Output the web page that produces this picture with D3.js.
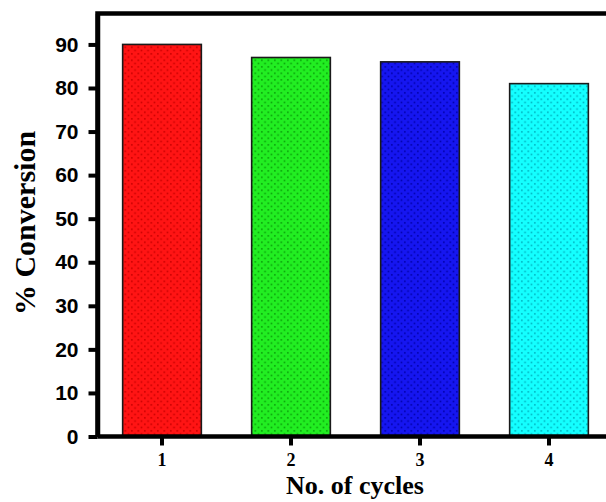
<!DOCTYPE html>
<html>
<head>
<meta charset="utf-8">
<script src="https://cdn.jsdelivr.net/npm/d3@7"></script>
<style>
  html,body{margin:0;padding:0;background:#fff;}
  svg{display:block;}
</style>
</head>
<body>
<div id="chart"></div>
<script>
/* ---------- DATA ---------- */
const cycles      = ["1","2","3","4"];
const conversion  = [90, 87, 86, 81];
const yTicks      = [0,10,20,30,40,50,60,70,80,90];
const barColors   = ["#ff1414","#22ee22","#1616f0","#14ffff"];
const dotColors   = ["#c80000","#0aa00a","#0000a8","#00b4c0"];

/* ---------- LAYOUT ---------- */
const W=606, H=502;
const X0=97.5, X1=613.5, Y0=436.5, Y1=13.5;

const svg=d3.select("#chart").append("svg").attr("width",W).attr("height",H);

/* dot patterns */
const defs=svg.append("defs");
cycles.forEach((c,i)=>{
  const p=defs.append("pattern").attr("id","dots"+i)
    .attr("patternUnits","userSpaceOnUse").attr("width",6.5).attr("height",6.5);
  p.append("rect").attr("width",6.5).attr("height",6.5).attr("fill",barColors[i]);
  p.append("rect").attr("x",1).attr("y",1).attr("width",1.6).attr("height",1.6).attr("fill",dotColors[i]);
  p.append("rect").attr("x",4.25).attr("y",4.25).attr("width",1.6).attr("height",1.6).attr("fill",dotColors[i]);
});

const x=d3.scaleBand().domain(cycles).range([X0,X1]).paddingInner(0.39).paddingOuter(0.195);
const y=d3.scaleLinear().domain([0,97.1]).range([Y0,Y1]);

/* bars */
svg.append("g").selectAll("rect").data(cycles).enter().append("rect")
  .attr("x",d=>x(d)).attr("width",x.bandwidth())
  .attr("y",(d,i)=>y(conversion[i])).attr("height",(d,i)=>Y0-y(conversion[i]))
  .attr("fill",(d,i)=>`url(#dots${i})`)
  .attr("stroke","#1a1a1a").attr("stroke-width",1.6);

/* frame: top + right */
svg.append("path").attr("d",`M${X0},${Y0}V${Y1}H${X1}V${Y0}`)
  .attr("fill","none").attr("stroke","#000").attr("stroke-width",4.5);

/* y axis */
const gy=svg.append("g").attr("transform",`translate(${X0},0)`)
  .call(d3.axisLeft(y).tickValues(yTicks).tickSize(9).tickSizeOuter(0).tickPadding(10));
gy.select(".domain").attr("stroke","#000").attr("stroke-width",4.5);
gy.selectAll(".tick line").attr("stroke","#000").attr("stroke-width",4);
gy.selectAll(".tick text").attr("fill","#000")
  .style("font-family","'Liberation Sans',Arial,sans-serif")
  .style("font-weight","bold").style("font-size","21px");

/* x axis */
const gx=svg.append("g").attr("transform",`translate(0,${Y0})`)
  .call(d3.axisBottom(x).tickSize(9).tickSizeOuter(0).tickPadding(8));
gx.select(".domain").attr("d",`M${X0},0H${X1}`).attr("stroke","#000").attr("stroke-width",4.5);
gx.selectAll(".tick line").attr("stroke","#000").attr("stroke-width",4);
gx.selectAll(".tick text").attr("fill","#000")
  .style("font-family","'Liberation Serif','Times New Roman',serif")
  .style("font-weight","bold").style("font-size","18px");

/* axis titles */
svg.append("text").attr("x",355).attr("y",494).attr("text-anchor","middle")
  .style("font-family","'Liberation Serif','Times New Roman',serif")
  .style("font-weight","bold").style("font-size","26px").text("No. of cycles");

svg.append("text").attr("transform","translate(35,223) rotate(-90)").attr("text-anchor","middle")
  .style("font-family","'Liberation Serif','Times New Roman',serif")
  .style("font-weight","bold").style("font-size","30px").text("% Conversion");
</script>
</body>
</html>
